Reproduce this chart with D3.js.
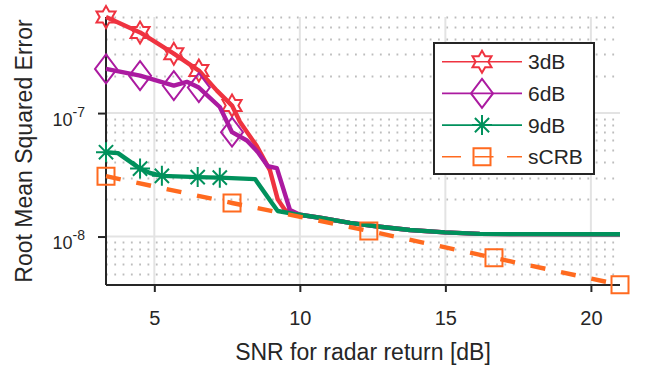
<!DOCTYPE html>
<html>
<head>
<meta charset="utf-8">
<script src="https://cdn.jsdelivr.net/npm/d3@7"></script>
<style>
body { margin: 0; background: #fff; }
text { font-family: "Liberation Sans", Arial, sans-serif; fill: #262626; }
</style>
</head>
<body>
<div id="chart"></div>
<script>

// shared tail of the three estimator curves (above ~10 dB they coincide)
var tailSnr = [10.0, 10.69, 11.72, 12.75, 13.78, 14.98, 16.18, 17.55, 21.0];
var tailRmse = [1.50e-8, 1.42e-8, 1.29e-8, 1.20e-8, 1.13e-8, 1.08e-8, 1.05e-8, 1.045e-8, 1.045e-8];

// 3dB curve
var snr3 = [3.34, 4.51, 5.67, 6.53, 7.15, 7.67, 7.94, 8.52, 8.97, 9.24, 9.49];
var rmse3 = [6.0e-7, 4.5e-7, 3.03e-7, 2.21e-7, 1.52e-7, 1.15e-7, 8.5e-8, 5.4e-8, 3.45e-8, 2.0e-8, 1.64e-8];
var mark3 = [0, 1, 2, 3, 5];

// 6dB curve
var snr6 = [3.34, 4.51, 5.67, 6.12, 6.53, 7.25, 7.67, 8.18, 8.56, 8.90, 9.21, 9.66];
var rmse6 = [2.28e-7, 2.01e-7, 1.67e-7, 1.79e-7, 1.61e-7, 1.12e-7, 7.0e-8, 6.0e-8, 4.82e-8, 3.71e-8, 3.58e-8, 1.64e-8];
var mark6 = [0, 1, 2, 4, 6];

// 9dB curve
var snr9 = [3.34, 3.75, 4.51, 4.85, 5.26, 6.49, 7.25, 8.46, 9.04, 9.24, 9.83];
var rmse9 = [4.82e-8, 4.74e-8, 3.55e-8, 3.27e-8, 3.10e-8, 3.03e-8, 3.0e-8, 2.92e-8, 1.87e-8, 1.61e-8, 1.52e-8];
var mark9 = [0, 2, 4, 5, 6];

// stochastic CRB
var snrCrb = [3.34, 7.67, 12.37, 16.67, 21.0];
var rmseCrb = [3.08e-8, 1.87e-8, 1.11e-8, 6.73e-9, 4.07e-9];
var markCrb = [0, 1, 2, 3, 4];

// axes
var xTicks = [5, 10, 15, 20];
var yTicks = [1e-8, 1e-7];
var yTickExp = ["-8", "-7"];
var legendNames = ["3dB", "6dB", "9dB", "sCRB"];


// core settings
var cfg = {
    w: 652,
    h: 371,
    margin: [17, 32, 86, 106], // top, right, bottom, left
    xdomain: [3.34, 21.0],
    ydomain: [4.05e-9, 6e-7],
    axis: "#262626",
    grid: "#e3e3e3",
    minor: "#bdbdbd",
    lw: 4.4, // data line width
    mw: 2 // marker line width
};
cfg.winner = cfg.w - cfg.margin[1] - cfg.margin[3];
cfg.hinner = cfg.h - cfg.margin[0] - cfg.margin[2];


// marker shapes, centred on 0,0
var marker = {
    hexagram: function () {
        var pts = [];
        for (var i = 0; i < 12; i++) {
            var r = i % 2 === 0 ? 11 : 6.35;
            var a = -Math.PI / 2 + i * Math.PI / 6;
            pts.push([r * Math.cos(a), r * Math.sin(a)]);
        }
        return "M" + pts.map(function (p) { return p.join(","); }).join("L") + "Z";
    },
    diamond: function () {
        return "M0,-14.5L11,0L0,14.5L-11,0Z";
    },
    asterisk: function () {
        var r = 10, d = 7.1;
        return "M0,-" + r + "V" + r + "M-" + r + ",0H" + r +
                "M-" + d + ",-" + d + "L" + d + "," + d +
                "M-" + d + "," + d + "L" + d + ",-" + d;
    },
    square: function () {
        return "M-8.5,-8.5H8.5V8.5H-8.5Z";
    }
};

var series = [
    {name: legendNames[0], snr: snr3.concat(tailSnr), rmse: rmse3.concat(tailRmse),
        marks: mark3, color: "#ef3340", shape: "hexagram", dash: null},
    {name: legendNames[1], snr: snr6.concat(tailSnr), rmse: rmse6.concat(tailRmse),
        marks: mark6, color: "#ab1aa0", shape: "diamond", dash: null},
    {name: legendNames[2], snr: snr9.concat(tailSnr), rmse: rmse9.concat(tailRmse),
        marks: mark9, color: "#00915c", shape: "asterisk", dash: null},
    {name: legendNames[3], snr: snrCrb, rmse: rmseCrb,
        marks: markCrb, color: "#ff6a1f", shape: "square", dash: "15,16"}
];


// svg and plot group
var svg = d3.select("#chart").append("svg")
        .attr("width", cfg.w).attr("height", cfg.h);
var g = svg.append("g")
        .attr("transform", "translate(" + cfg.margin[3] + "," + cfg.margin[0] + ")");

var xscale = d3.scaleLinear().domain(cfg.xdomain).range([0, cfg.winner]);
var yscale = d3.scaleLog().domain(cfg.ydomain).range([cfg.hinner, 0]);


// minor grid on the log axis (dotted)
var minorVals = [];
[-9, -8, -7].forEach(function (k) {
    for (var m = 2; m <= 9; m++) {
        var v = m * Math.pow(10, k);
        if (v >= cfg.ydomain[0] && v <= cfg.ydomain[1]) minorVals.push(v);
    }
});
g.selectAll(".minor").data(minorVals).enter().append("line")
        .attr("class", "minor")
        .attr("x1", 0).attr("x2", cfg.winner)
        .attr("y1", function (d) { return Math.round(yscale(d)) + 0.5; })
        .attr("y2", function (d) { return Math.round(yscale(d)) + 0.5; })
        .attr("stroke", cfg.minor).attr("stroke-width", 1.8)
        .attr("stroke-dasharray", "1.8,6.5");

// major grid
g.selectAll(".vgrid").data(xTicks).enter().append("line")
        .attr("x1", function (d) { return xscale(d); })
        .attr("x2", function (d) { return xscale(d); })
        .attr("y1", 0).attr("y2", cfg.hinner)
        .attr("stroke", cfg.grid).attr("stroke-width", 2);
g.selectAll(".hgrid").data(yTicks).enter().append("line")
        .attr("x1", 0).attr("x2", cfg.winner)
        .attr("y1", function (d) { return yscale(d); })
        .attr("y2", function (d) { return yscale(d); })
        .attr("stroke", cfg.grid).attr("stroke-width", 2);


// x axis
var xaxis = d3.axisBottom(xscale).tickValues(xTicks).tickSize(7).tickPadding(0);
var gx = g.append("g").attr("transform", "translate(0," + cfg.hinner + ")").call(xaxis);
gx.select("path.domain").attr("d", "M0,0H" + cfg.winner)
        .attr("stroke", cfg.axis).attr("stroke-width", 2);
gx.selectAll(".tick line").attr("stroke", cfg.axis).attr("stroke-width", 2);
gx.selectAll(".tick text").attr("y", 40).attr("dy", 0)
        .attr("font-size", 20).attr("fill", "#262626");
g.append("text").text("SNR for radar return [dB]")
        .attr("x", cfg.winner / 2).attr("y", cfg.hinner + 75)
        .attr("text-anchor", "middle").attr("font-size", 23);

// y axis with 10^k labels
var yaxis = d3.axisLeft(yscale).tickValues(yTicks).tickSize(8).tickFormat("");
var gy = g.append("g").call(yaxis);
gy.select("path.domain").attr("d", "M0,0V" + cfg.hinner)
        .attr("stroke", cfg.axis).attr("stroke-width", 2);
gy.selectAll(".tick line").attr("stroke", cfg.axis).attr("stroke-width", 2);
gy.selectAll(".tick").each(function (d, i) {
    var t = d3.select(this).append("text")
            .attr("x", -21).attr("y", 12)
            .attr("text-anchor", "end").attr("font-size", 18);
    t.append("tspan").text("10");
    t.append("tspan").text(yTickExp[i]).attr("dy", -9).attr("font-size", 14);
});
g.append("text").text("Root Mean Squared Error")
        .attr("transform", "rotate(-90)")
        .attr("x", -cfg.hinner / 2).attr("y", -74)
        .attr("text-anchor", "middle").attr("font-size", 23);


// data lines and markers
var line = d3.line()
        .x(function (d) { return xscale(d[0]); })
        .y(function (d) { return yscale(d[1]); });

series.forEach(function (s) {
    var pts = d3.zip(s.snr, s.rmse);
    g.append("path").datum(pts)
            .attr("d", line)
            .attr("fill", "none")
            .attr("stroke", s.color)
            .attr("stroke-width", cfg.lw)
            .attr("stroke-linejoin", "round")
            .attr("stroke-dasharray", s.dash);
    g.selectAll(null).data(s.marks.map(function (i) { return pts[i]; })).enter()
            .append("path")
            .attr("d", marker[s.shape]())
            .attr("transform", function (d) {
                return "translate(" + xscale(d[0]) + "," + yscale(d[1]) + ")";
            })
            .attr("fill", "none")
            .attr("stroke", s.color)
            .attr("stroke-width", cfg.mw);
});


// legend
var leg = svg.append("g").attr("transform", "translate(434,43)");
leg.append("rect").attr("width", 160).attr("height", 131)
        .attr("fill", "#fff").attr("stroke", cfg.axis).attr("stroke-width", 2);
series.forEach(function (s, i) {
    var yy = 18.7 + i * 31.7;
    leg.append("line")
            .attr("x1", 8).attr("x2", 88).attr("y1", yy).attr("y2", yy)
            .attr("stroke", s.color).attr("stroke-width", 1.6)
            .attr("stroke-dasharray", s.dash ? "19,13.5" : null);
    leg.append("path").attr("d", marker[s.shape]())
            .attr("transform", "translate(48," + yy + ")")
            .attr("fill", "none").attr("stroke", s.color).attr("stroke-width", cfg.mw);
    leg.append("text").text(s.name)
            .attr("x", 94).attr("y", yy + 7.5)
            .attr("font-size", 21);
});

</script>
</body>
</html>
